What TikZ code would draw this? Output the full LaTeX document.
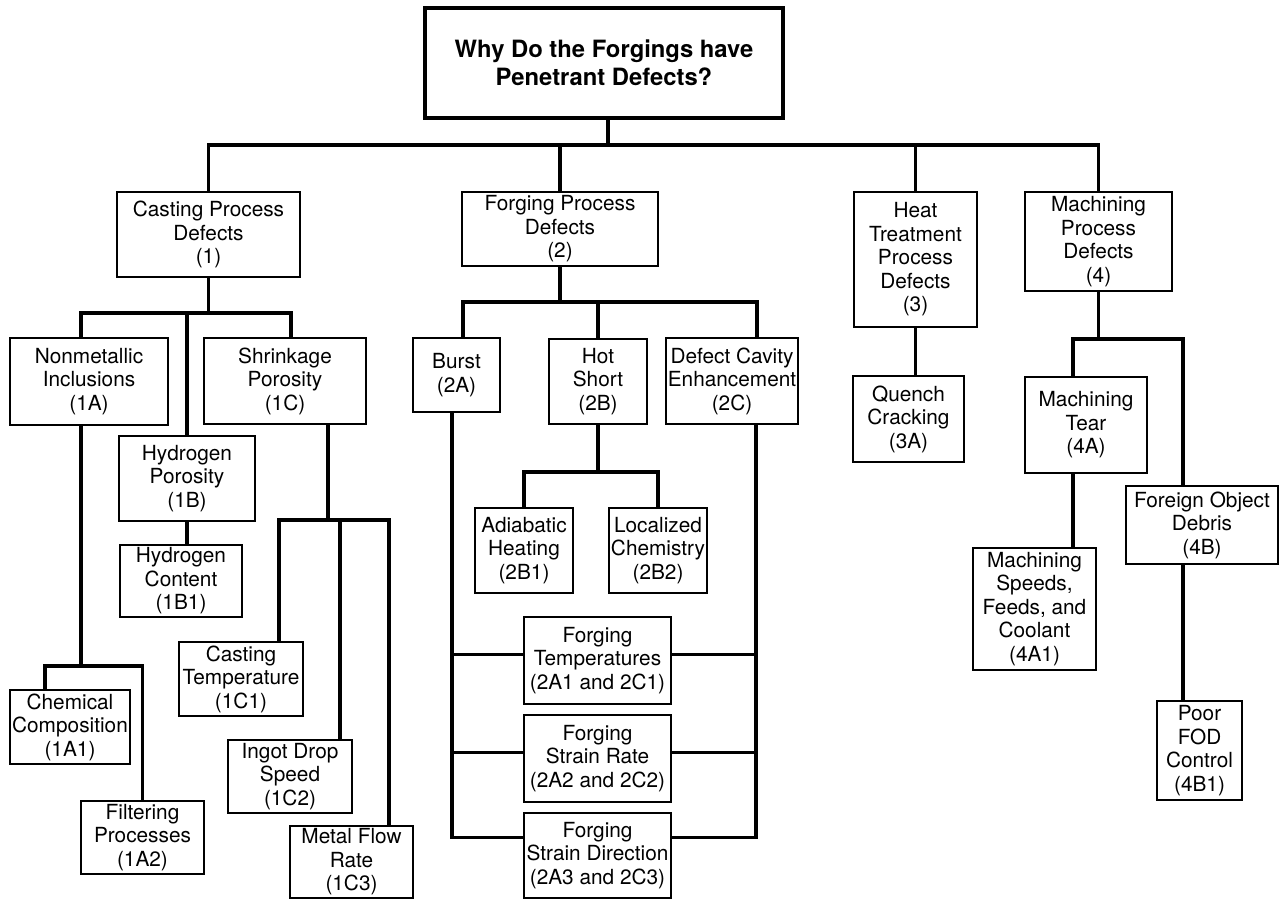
\documentclass[tikz,border=0pt]{standalone}
\usepackage{fontspec}
\setmainfont{TeX Gyre Heros}
\newcommand{\boxfont}{\fontsize{10.4}{11.75}\selectfont}
\newcommand{\whyfont}{\fontsize{11.9}{14}\selectfont\bfseries}
\tikzset{
  box/.style={draw, line width=0.8pt, align=center, inner sep=1pt, font=\boxfont},
  whybox/.style={draw, line width=1.6pt, align=center, font=\whyfont},
  wh/.style 2 args={minimum width=#1*0.5pt, minimum height=#2*0.5pt},
  link/.style={line width=1.6pt},
}

\begin{document}
\begin{tikzpicture}[x=0.5pt, y=-0.5pt]
  \useasboundingbox (0,0) rectangle (1282,899);
  % question and main causes
  \node[whybox, wh={358}{110}] (why) at (604,63) {Why Do the Forgings have\\Penetrant Defects?};
  \node[box, wh={183}{85}] (d1) at (208.5,234.5) {Casting Process\\Defects\\(1)};
  \node[box, wh={196}{74}] (d2) at (560,229) {Forging Process\\Defects\\(2)};
  \node[box, wh={123}{135}] (d3) at (915.5,259.5) {Heat\\Treatment\\Process\\Defects\\(3)};
  \node[box, wh={147}{99}] (d4) at (1098.5,241.5) {Machining\\Process\\Defects\\(4)};
  % casting
  \node[box, wh={158}{87}] (d1a) at (89,381.5) {Nonmetallic\\Inclusions\\(1A)};
  \node[box, wh={136}{85}] (d1b) at (187,478.5) {Hydrogen\\Porosity\\(1B)};
  \node[box, wh={162}{86}] (d1c) at (285,381) {Shrinkage\\Porosity\\(1C)};
  \node[box, wh={122}{72}] (d1b1) at (181,581) {Hydrogen\\Content\\(1B1)};
  \node[box, wh={120}{74}] (d1a1) at (70,727) {Chemical\\Composition\\(1A1)};
  \node[box, wh={123}{73}] (d1a2) at (142.5,837.5) {Filtering\\Processes\\(1A2)};
  \node[box, wh={124}{74}] (d1c1) at (241,679) {Casting\\Temperature\\(1C1)};
  \node[box, wh={124}{73}] (d1c2) at (290,776.5) {Ingot Drop\\Speed\\(1C2)};
  \node[box, wh={123}{72}] (d1c3) at (351.5,862) {Metal Flow\\Rate\\(1C3)};
  % forging
  \node[box, wh={87}{74}] (d2a) at (456.5,375) {Burst\\(2A)};
  \node[box, wh={98}{85}] (d2b) at (598,381.5) {Hot\\Short\\(2B)};
  \node[box, wh={122}{86}] (d2c) at (732,381) {Defect Cavity\\Enhancement\\(2C)};
  \node[box, wh={98}{85}] (d2b1) at (524,550.5) {Adiabatic\\Heating\\(2B1)};
  \node[box, wh={98}{85}] (d2b2) at (658,550.5) {Localized\\Chemistry\\(2B2)};
  \node[box, wh={147}{87}] (f1) at (597.5,660.5) {Forging\\Temperatures\\(2A1 and 2C1)};
  \node[box, wh={147}{87}] (f2) at (597.5,758.5) {Forging\\Strain Rate\\(2A2 and 2C2)};
  \node[box, wh={147}{85}] (f3) at (597.5,855.5) {Forging\\Strain Direction\\(2A3 and 2C3)};
  % heat treatment and machining
  \node[box, wh={111}{86}] (d3a) at (908.5,419) {Quench\\Cracking\\(3A)};
  \node[box, wh={122}{96}] (d4a) at (1086,425) {Machining\\Tear\\(4A)};
  \node[box, wh={123}{122}] (d4a1) at (1034.5,609) {Machining\\Speeds,\\Feeds, and\\Coolant\\(4A1)};
  \node[box, wh={152}{78}] (d4b) at (1202,525) {Foreign Object\\Debris\\(4B)};
  \node[box, wh={85}{99}] (d4b1) at (1199.5,750.5) {Poor\\FOD\\Control\\(4B1)};

  % top bus
  \coordinate (bus) at (608,145);
  \draw[link] (why.south -| bus) -- (bus);
  \draw[link] (d1.north) |- (bus) -| (d4.north);
  \foreach \p in {d2,d3}
    \draw[link] (\p.north) -- (\p.north |- bus);

  % casting tree
  \coordinate (hub1) at (208.5,313);
  \draw[link] (d1.south) -- (hub1);
  \draw[link] ([xshift=-4pt]d1a.north) |- (hub1) -| ([xshift=3pt]d1c.north);
  \draw[link] (d1b.north) -- (d1b.north |- hub1);
  \draw[link] (d1b.south) -- (d1b.south |- d1b1.north);
  \coordinate (hub1a) at (81,666);
  \draw[link] ([xshift=-4pt]d1a.south) -- (hub1a);
  \draw[link] ([xshift=-12.5pt]d1a1.north) |- (hub1a) -| (d1a2.north);
  \coordinate (hub1c) at (328,520);
  \coordinate (t1c2) at ([xshift=25pt]d1c2.north);
  \draw[link] (d1c.south -| hub1c) -- (hub1c);
  \draw[link] ([xshift=19pt]d1c1.north) |- (hub1c) -| ([xshift=18.75pt]d1c3.north);
  \draw[link] (t1c2) -- (t1c2 |- hub1c);

  % forging tree
  \coordinate (hub2) at (560,302);
  \draw[link] (d2.south) -- (hub2);
  \draw[link] ([xshift=3.25pt]d2a.north) |- (hub2) -| ([xshift=12.5pt]d2c.north);
  \draw[link] (d2b.north) -- (d2b.north |- hub2);
  \coordinate (hub2b) at (598,472);
  \draw[link] (d2b.south) -- (hub2b);
  \draw[link] (d2b1.north) |- (hub2b) -| (d2b2.north);
  \coordinate (railA) at ([xshift=-2.25pt]d2a.south);
  \coordinate (railC) at ([xshift=12pt]d2c.south);
  \draw[link] (railA) |- ([yshift=9pt]f3.west);
  \draw[link] (railC) |- ([yshift=9pt]f3.east);
  \foreach \p in {f1,f2} {
    \coordinate (l\p) at ([yshift=3pt]\p.west);
    \coordinate (r\p) at ([yshift=3pt]\p.east);
    \draw[link] (l\p) -- (l\p -| railA);
    \draw[link] (r\p) -- (r\p -| railC);
  }

  % heat treatment
  \draw[link] (d3.south) -- (d3.south |- d3a.north);

  % machining tree
  \coordinate (hub4) at (1098.5,339);
  \draw[link] (d4.south) -- (hub4);
  \draw[link] ([xshift=-6.5pt]d4a.north) |- (hub4) -| ([xshift=-9.5pt]d4b.north);
  \coordinate (t4a) at ([xshift=-6.5pt]d4a.south);
  \coordinate (t4b) at ([xshift=-9.5pt]d4b.south);
  \draw[link] (t4a) -- (t4a |- d4a1.north);
  \draw[link] (t4b) -- (t4b |- d4b1.north);
\end{tikzpicture}
\end{document}
